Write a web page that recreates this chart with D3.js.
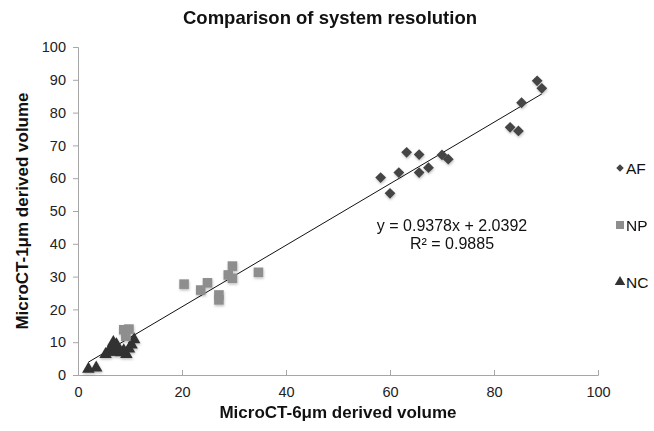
<!DOCTYPE html>
<html>
<head>
<meta charset="utf-8">
<script src="https://cdn.jsdelivr.net/npm/d3@7"></script>
<style>
  body { margin: 0; background: #fff; }
  svg { font-family: "Liberation Sans", Arial, sans-serif; }
</style>
</head>
<body>
<div id="chart"></div>
<script>
// values
const afPoints = [
  [58.2, 60.2], [60.0, 55.4], [61.7, 61.7], [63.2, 67.9], [65.6, 67.2],
  [65.6, 61.7], [67.4, 63.2], [70.0, 67.1], [71.2, 65.8], [83.1, 75.5],
  [84.7, 74.4], [85.3, 83.0], [88.3, 89.7], [89.2, 87.4]
];
const npPoints = [
  [20.4, 27.7], [23.6, 25.9], [24.9, 28.1], [27.1, 24.4], [27.1, 22.9],
  [28.9, 30.5], [29.7, 33.2], [29.7, 29.5], [34.7, 31.3],
  [8.8, 13.8], [9.8, 14.0], [9.2, 11.8]
];
const ncPoints = [
  [2.0, 1.8], [3.5, 2.2], [5.3, 6.3], [5.8, 7.0], [6.3, 8.2], [6.8, 10.0],
  [7.4, 9.3], [7.6, 8.0], [8.2, 6.8], [8.8, 7.5], [9.3, 6.3], [9.8, 8.0],
  [10.3, 9.2], [10.8, 10.8], [7.0, 7.0]
];
const seriesNames = ['AF', 'NP', 'NC'];
const trendSlope = 0.9378;
const trendIntercept = 2.0392;
const trendText = ['y = 0.9378x + 2.0392', 'R² = 0.9885'];
const xTicks = [0, 20, 40, 60, 80, 100];
const yTicks = [0, 10, 20, 30, 40, 50, 60, 70, 80, 90, 100];

const width = 654, height = 431;
const margin = { left: 78, top: 47, right: 56, bottom: 56 };

const svg = d3.select('#chart').append('svg')
  .attr('width', width)
  .attr('height', height);

const defs = svg.append('defs');
const shadow = defs.append('filter').attr('id', 'shadow')
  .attr('x', '-50%').attr('y', '-50%').attr('width', '200%').attr('height', '200%');
shadow.append('feDropShadow')
  .attr('dx', 0.5).attr('dy', 1.5).attr('stdDeviation', 1)
  .attr('flood-color', '#000').attr('flood-opacity', 0.25);

const x = d3.scaleLinear().domain([0, 100]).range([margin.left, width - margin.right]);
const y = d3.scaleLinear().domain([0, 100]).range([height - margin.bottom, margin.top]);

const axisColor = '#a6a6a6';

// y axis, ticks outside
const yAxis = svg.append('g')
  .attr('transform', `translate(${margin.left},0)`)
  .call(d3.axisLeft(y).tickValues(yTicks).tickSize(5).tickPadding(7));
yAxis.selectAll('path, line').attr('stroke', axisColor);
yAxis.selectAll('text').attr('font-size', 14.5).attr('fill', '#222')
  .attr('font-family', '"Liberation Sans", Arial, sans-serif');

// x axis, ticks pointing up
const xAxis = svg.append('g')
  .attr('transform', `translate(0,${y(0)})`)
  .call(d3.axisBottom(x).tickValues(xTicks).tickSizeInner(-5).tickSizeOuter(-5).tickPadding(8));
xAxis.selectAll('path, line').attr('stroke', axisColor);
xAxis.selectAll('text').attr('font-size', 14.5).attr('fill', '#222')
  .attr('font-family', '"Liberation Sans", Arial, sans-serif')
  .attr('dy', '0.95em');

// trendline over data range
const allX = [...afPoints, ...npPoints, ...ncPoints].map(d => d[0]);
const xr = d3.extent(allX);
const line = d3.line().x(d => x(d)).y(d => y(trendSlope * d + trendIntercept));
svg.append('path')
  .datum(xr)
  .attr('d', line)
  .attr('fill', 'none')
  .attr('stroke', '#111')
  .attr('stroke-width', 1);

// markers
const diamond = d3.symbol().type(d3.symbolSquare).size(58);
const square = d3.symbol().type(d3.symbolSquare).size(92);
const triangle = d3.symbol().type(d3.symbolTriangle).size(68);

const marks = svg.append('g').attr('filter', 'url(#shadow)');

marks.selectAll('.nc')
  .data(ncPoints)
  .enter()
  .append('path')
  .attr('class', 'nc')
  .attr('d', triangle)
  .attr('fill', '#333')
  .attr('transform', d => `translate(${x(d[0])},${y(d[1])})`);

marks.selectAll('.np')
  .data(npPoints)
  .enter()
  .append('path')
  .attr('class', 'np')
  .attr('d', square)
  .attr('fill', '#8e8e8e')
  .attr('transform', d => `translate(${x(d[0])},${y(d[1])})`);

marks.selectAll('.af')
  .data(afPoints)
  .enter()
  .append('path')
  .attr('class', 'af')
  .attr('d', diamond)
  .attr('fill', '#444')
  .attr('transform', d => `translate(${x(d[0])},${y(d[1])}) rotate(45)`);

// trend equation
svg.append('g')
  .selectAll('text')
  .data(trendText)
  .enter()
  .append('text')
  .attr('x', 452)
  .attr('y', (d, i) => 231 + i * 18)
  .attr('text-anchor', 'middle')
  .attr('font-size', 16)
  .attr('fill', '#111')
  .text(d => d);

// legend
const legendSymbols = [
  { s: d3.symbol().type(d3.symbolSquare).size(28), fill: '#444', rot: 45 },
  { s: d3.symbol().type(d3.symbolSquare).size(64), fill: '#8e8e8e', rot: 0 },
  { s: d3.symbol().type(d3.symbolTriangle).size(48), fill: '#333', rot: 0 }
];
const legend = svg.append('g');
const items = legend.selectAll('g')
  .data(seriesNames)
  .enter()
  .append('g')
  .attr('transform', (d, i) => `translate(620,${168 + i * 57})`);
items.append('path')
  .attr('d', (d, i) => legendSymbols[i].s())
  .attr('fill', (d, i) => legendSymbols[i].fill)
  .attr('transform', (d, i) => `rotate(${legendSymbols[i].rot})`);
items.append('text')
  .attr('x', 6)
  .attr('y', 6)
  .attr('font-size', 15.5)
  .attr('fill', '#111')
  .text(d => d);

// titles
svg.append('text')
  .attr('x', 330)
  .attr('y', 24)
  .attr('text-anchor', 'middle')
  .attr('font-size', 18.5)
  .attr('font-weight', 'bold')
  .attr('fill', '#111')
  .text('Comparison of system resolution');

svg.append('text')
  .attr('x', (margin.left + width - margin.right) / 2)
  .attr('y', 418)
  .attr('text-anchor', 'middle')
  .attr('font-size', 17)
  .attr('font-weight', 'bold')
  .attr('fill', '#111')
  .text('MicroCT-6μm derived volume');

svg.append('text')
  .attr('transform', `translate(28,${(margin.top + height - margin.bottom) / 2}) rotate(-90)`)
  .attr('text-anchor', 'middle')
  .attr('font-size', 17)
  .attr('font-weight', 'bold')
  .attr('fill', '#111')
  .text('MicroCT-1μm derived volume');
</script>
</body>
</html>
